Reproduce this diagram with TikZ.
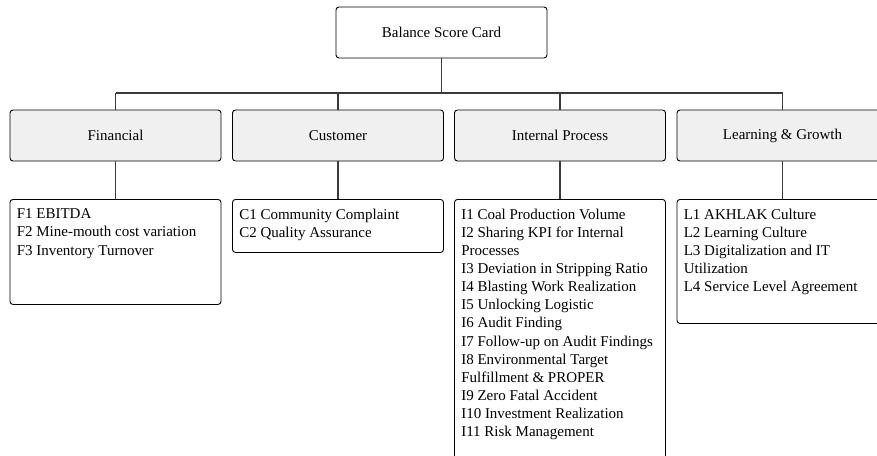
\documentclass[tikz,border=0pt]{standalone}
\usepackage{fontspec}
\setmainfont{Liberation Serif}
\definecolor{catfill}{HTML}{F0F0F0}
\definecolor{linegray}{HTML}{3A3A3A}
\begin{document}
\begin{tikzpicture}[x=1pt,y=-1pt,
  box/.style={draw=black, line width=0.9pt, rounded corners=3pt, inner sep=0pt, minimum width=211pt},
  topbox/.style={box, fill=white, minimum height=51pt},
  catbox/.style={box, fill=catfill, minimum height=51pt},
  listbox/.style={box, fill=white, anchor=north},
  listtext/.style={anchor=north west, align=left, inner sep=0pt, font=\fontsize{15}{18.1}\selectfont},
  conn/.style={draw=linegray, line width=1.1pt},
  every node/.append style={font=\fontsize{15}{18.1}\selectfont}]
\useasboundingbox (0,0) rectangle (877,455);
\clip (0,0) rectangle (877,455);

\node[topbox] (bsc) at (441.5,32.5) {Balance Score Card};

\node[catbox] (fin) at (115.5,135.5) {Financial};
\node[catbox] (cus) at (338,135.5) {Customer};
\node[catbox] (int) at (560,135.5) {Internal Process};
\node[catbox] (lea) at (782.5,135.5) {Learning \& Growth};

\node[listbox, minimum height=105pt] (finl) at (115.5,199) {};
\node[listbox, minimum height=53pt] (cusl) at (338,199) {};
\node[listbox, minimum height=280pt] (intl) at (560,199) {};
\node[listbox, minimum height=124pt] (leal) at (782.5,199) {};

\node[listtext] (fint) at ([xshift=7pt,yshift=-9.7pt]finl.north west)
  {F1 EBITDA\\F2 Mine-mouth cost variation\\F3 Inventory Turnover};
\node[listtext] (cust) at ([xshift=7pt,yshift=-9.7pt]cusl.north west)
  {C1 Community Complaint\\C2 Quality Assurance};
\node[listtext] (intt) at ([xshift=7pt,yshift=-9.7pt]intl.north west)
  {I1 Coal Production Volume\\I2 Sharing KPI for Internal\\Processes\\I3 Deviation in Stripping Ratio\\I4 Blasting Work Realization\\I5 Unlocking Logistic\\I6 Audit Finding\\I7 Follow-up on Audit Findings\\I8 Environmental Target\\Fulfillment \& PROPER\\I9 Zero Fatal Accident\\I10 Investment Realization\\I11 Risk Management};
\node[listtext] (leat) at ([xshift=7pt,yshift=-9.7pt]leal.north west)
  {L1 AKHLAK Culture\\L2 Learning Culture\\L3 Digitalization and IT\\Utilization\\L4 Service Level Agreement};

\coordinate (bar) at (0,93);
\draw[conn] (bsc.south) -- (bsc.south |- bar);
\draw[conn] (fin.north |- bar) -- (lea.north |- bar);
\draw[conn] (fin.north |- bar) -- (fin.north);
\draw[conn] (cus.north |- bar) -- (cus.north);
\draw[conn] (int.north |- bar) -- (int.north);
\draw[conn] (lea.north |- bar) -- (lea.north);

\draw[conn] (fin.south) -- (finl.north);
\draw[conn] (cus.south) -- (cusl.north);
\draw[conn] (int.south) -- (intl.north);
\draw[conn] (lea.south) -- (leal.north);
\end{tikzpicture}
\end{document}
